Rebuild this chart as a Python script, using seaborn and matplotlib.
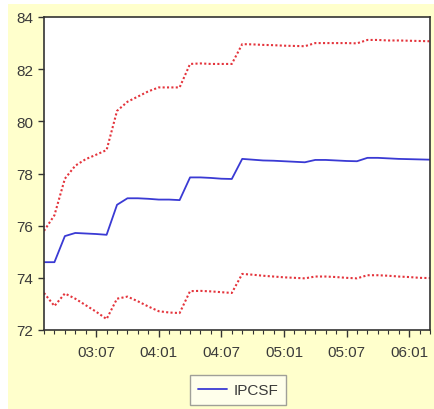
import numpy as np
import pandas as pd
import matplotlib
matplotlib.use('Agg')
import matplotlib.pyplot as plt
import seaborn as sns
from matplotlib.patches import Rectangle

# meses de 2003:02 a 2006:03
meses = pd.period_range('2003-02', periods=38, freq='M')

ipcsf = [74.60, 74.60, 75.60, 75.72, 75.70, 75.68, 75.65, 76.80, 77.05, 77.05,
         77.03, 77.00, 77.00, 76.98, 77.85, 77.85, 77.83, 77.80, 77.79, 78.56,
         78.53, 78.50, 78.49, 78.47, 78.45, 78.43, 78.52, 78.52, 78.50, 78.48,
         78.47, 78.60, 78.60, 78.58, 78.56, 78.55, 78.54, 78.53]

superior = [75.80, 76.40, 77.80, 78.30, 78.55, 78.72, 78.90, 80.40, 80.75, 80.95,
            81.15, 81.30, 81.30, 81.30, 82.20, 82.22, 82.20, 82.20, 82.20, 82.96,
            82.95, 82.93, 82.92, 82.90, 82.89, 82.88, 83.00, 83.00, 83.00, 83.00,
            82.99, 83.12, 83.12, 83.10, 83.10, 83.09, 83.08, 83.07]

inferior = [73.42, 72.92, 73.40, 73.20, 72.95, 72.70, 72.42, 73.20, 73.28, 73.10,
            72.90, 72.72, 72.67, 72.65, 73.49, 73.50, 73.48, 73.45, 73.42, 74.15,
            74.12, 74.08, 74.05, 74.02, 74.00, 73.98, 74.05, 74.05, 74.03, 74.00,
            73.98, 74.10, 74.10, 74.08, 74.05, 74.03, 74.00, 73.99]

rotulos = ['03:07', '04:01', '04:07', '05:01', '05:07', '06:01']

df = pd.DataFrame({'t': np.arange(len(meses)), 'IPCSF': ipcsf,
                   'sup': superior, 'inf': inferior})

sns.set_style('white')
plt.rcParams['font.family'] = ['Liberation Sans', 'DejaVu Sans']

fig = plt.figure(figsize=(4.35, 4.10), dpi=100)
fig.patches.append(Rectangle((8 / 435, 0), 1, (410 - 5) / 410, transform=fig.transFigure,
                             facecolor='#ffffcc', edgecolor='none', zorder=-10))
ax = fig.add_axes([44 / 435, 79 / 410, 386 / 435, 313 / 410])
ax.set_facecolor('white')

azul = '#3a3ad4'
vermelho = '#e4343c'
sns.lineplot(data=df, x='t', y='IPCSF', ax=ax, color=azul, lw=1.3, label='IPCSF')
sns.lineplot(data=df, x='t', y='sup', ax=ax, color=vermelho, lw=1.5,
             linestyle=(0, (1, 1.1)), legend=False)
sns.lineplot(data=df, x='t', y='inf', ax=ax, color=vermelho, lw=1.5,
             linestyle=(0, (1, 1.1)), legend=False)

ax.set_xlim(0, len(meses) - 1)
ax.set_ylim(72, 84)
ax.set_yticks(range(72, 85, 2))
pos = [list(meses.strftime('%y:%m')).index(r) for r in rotulos]
ax.set_xticks(pos)
ax.set_xticklabels(rotulos)
ax.set_xticks(df['t'], minor=True)
ax.set_xlabel('')
ax.set_ylabel('')

cor_txt = '#3a3a3a'
ax.tick_params(axis='both', which='major', labelsize=11, colors='#333333',
               labelcolor=cor_txt, direction='out', length=4, width=1)
ax.tick_params(axis='x', which='major', length=5, pad=6)
ax.tick_params(axis='x', which='minor', length=3, width=0.8, colors='#333333', bottom=True)
ax.tick_params(axis='y', left=True)
ax.tick_params(axis='x', bottom=True)
for s in ax.spines.values():
    s.set_color('#333333')
    s.set_linewidth(1.2)

leg = ax.legend(loc='center', bbox_to_anchor=(238 / 435, 19 / 410),
                bbox_transform=fig.transFigure, fontsize=11, frameon=True,
                fancybox=False, handlelength=1.9, handletextpad=0.4, borderpad=0.55)
leg.get_frame().set_edgecolor('#888888')
leg.get_frame().set_facecolor('#fffff4')
leg.get_frame().set_linewidth(1)
for t in leg.get_texts():
    t.set_color(cor_txt)

fig.savefig('out.png', dpi=100)
